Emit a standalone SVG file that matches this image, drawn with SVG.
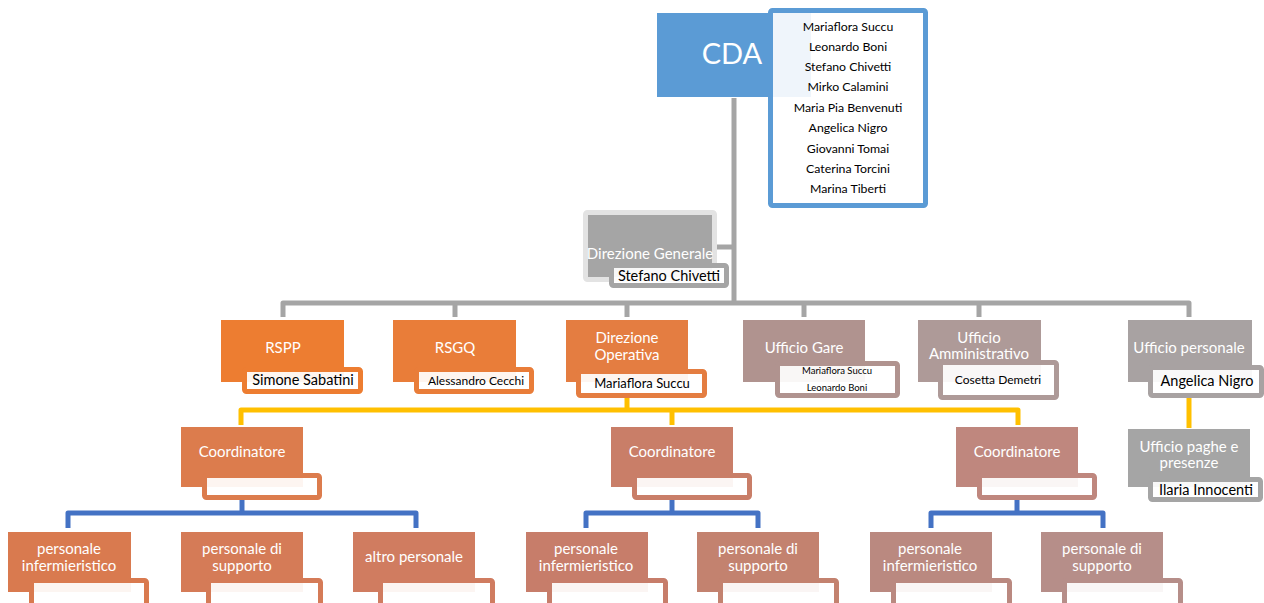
<svg xmlns="http://www.w3.org/2000/svg" width="1264" height="603" viewBox="0 0 1264 603">
<style>
.conn{fill:none;stroke-width:5;stroke-linejoin:round;stroke-linecap:butt}
.g{stroke:#A5A5A5}.y{stroke:#FFC000}.b{stroke:#4472C4}
.lbl{font-family:Lato,"Liberation Sans",sans-serif;font-size:15px;fill:#FFFFFF;text-anchor:middle}
.nm{font-family:Lato,"Liberation Sans",sans-serif;font-size:14.5px;fill:#000000;text-anchor:middle}
.nb{fill:#FFFFFF;fill-opacity:0.92;stroke-width:5}
</style>
<rect width="1264" height="603" fill="#FFFFFF"/>
<g id="connectors">
<path class="conn g" d="M734,98 V303"/>
<path class="conn g" d="M717,247 H734"/>
<path class="conn g" d="M283,317 V303 H1189 V317"/>
<path class="conn g" d="M455,303 V317 M627,303 V317 M804,303 V317 M979,303 V317"/>
<path class="conn y" d="M627,397 V410"/>
<path class="conn y" d="M241,425 V410 H1018 V425"/>
<path class="conn y" d="M672,410 V425"/>
<path class="conn y" d="M1189,397 V428"/>
<path class="conn b" d="M242,499 V513"/>
<path class="conn b" d="M68,528 V513 H416 V528"/>
<path class="conn b" d="M672,499 V513"/>
<path class="conn b" d="M586,528 V513 H758 V528"/>
<path class="conn b" d="M1017,499 V513"/>
<path class="conn b" d="M931,528 V513 H1103 V528"/>
</g>
<g id="cda">
<rect x="657" y="13" width="154" height="84" fill="#5B9BD5"/>
<text x="732" y="64" font-family="Lato,'Liberation Sans',sans-serif" font-size="29" fill="#FFFFFF" text-anchor="middle">CDA</text>
<rect x="770.5" y="10.5" width="155" height="195" rx="2" fill="#FFFFFF" fill-opacity="0.9" stroke="#5B9BD5" stroke-width="5"/>
<g font-family="Lato,'Liberation Sans',sans-serif" font-size="12.3" fill="#000000" text-anchor="middle">
<text x="848" y="31">Mariaflora Succu</text>
<text x="848" y="51">Leonardo Boni</text>
<text x="848" y="71">Stefano Chivetti</text>
<text x="848" y="91">Mirko Calamini</text>
<text x="848" y="112">Maria Pia Benvenuti</text>
<text x="848" y="132">Angelica Nigro</text>
<text x="848" y="153">Giovanni Tomai</text>
<text x="848" y="173">Caterina Torcini</text>
<text x="848" y="193">Marina Tiberti</text>
</g>
</g>
<g id="direzione-generale">
<rect x="585.5" y="212.5" width="129" height="67" rx="2" fill="#A5A5A5" stroke="#E3E3E3" stroke-width="5"/>
<text class="lbl" x="650" y="259">Direzione Generale</text>
<rect class="nb" x="611.5" y="265.5" width="115" height="20" rx="2" stroke="#A5A5A5"/>
<text class="nm" x="669" y="281">Stefano Chivetti</text>
</g>
<g id="rspp">
<rect x="221" y="320" width="123" height="62" fill="#ED7D31"/>
<text class="lbl" x="283" y="353">RSPP</text>
<rect class="nb" x="244.5" y="369.5" width="116" height="22" rx="2" stroke="#ED7D31"/>
<text class="nm" x="303" y="385">Simone Sabatini</text>
</g>
<g id="rsgq">
<rect x="393" y="320" width="123" height="62" fill="#E97D39"/>
<text class="lbl" x="455" y="353">RSGQ</text>
<rect class="nb" x="416.5" y="369.5" width="115" height="22" rx="2" stroke="#E97D39"/>
<text class="nm" x="476" y="385" style="font-size:12px">Alessandro Cecchi</text>
</g>
<g id="direzione-operativa">
<rect x="566" y="320" width="122" height="62" fill="#E47D41"/>
<text class="lbl" x="627" y="343">Direzione</text>
<text class="lbl" x="627" y="360">Operativa</text>
<rect class="nb" x="578.5" y="371.5" width="126" height="24" rx="2" stroke="#E47D41"/>
<text class="nm" x="642" y="388" style="font-size:13px">Mariaflora Succu</text>
</g>
<g id="ufficio-gare">
<rect x="743" y="320" width="122" height="62" fill="#B0938F"/>
<text class="lbl" x="804" y="353">Ufficio Gare</text>
<rect class="nb" x="777.5" y="363.5" width="120" height="32" rx="2" stroke="#B0938F"/>
<text class="nm" x="837" y="374" style="font-size:9.5px">Mariaflora Succu</text>
<text class="nm" x="837" y="391" style="font-size:9.5px">Leonardo Boni</text>
</g>
<g id="ufficio-amministrativo">
<rect x="918" y="320" width="123" height="62" fill="#AE9A98"/>
<text class="lbl" x="979" y="343">Ufficio</text>
<text class="lbl" x="979" y="359">Amministrativo</text>
<rect class="nb" x="940.5" y="362.5" width="116" height="35" rx="2" stroke="#AE9A98"/>
<text class="nm" x="998" y="384" style="font-size:12px">Cosetta Demetri</text>
</g>
<g id="ufficio-personale">
<rect x="1128" y="320" width="124" height="62" fill="#A8A2A2"/>
<text class="lbl" x="1189" y="353">Ufficio personale</text>
<rect class="nb" x="1150.5" y="367.5" width="111" height="28" rx="2" stroke="#A8A2A2"/>
<text class="nm" x="1207" y="386">Angelica Nigro</text>
</g>
<g id="ufficio-paghe">
<rect x="1128" y="429" width="122" height="58" fill="#A5A5A5"/>
<text class="lbl" x="1189" y="452">Ufficio paghe e</text>
<text class="lbl" x="1189" y="468">presenze</text>
<rect class="nb" x="1150.5" y="479.5" width="110" height="20" rx="2" stroke="#A5A5A5"/>
<text class="nm" x="1206" y="495">Ilaria Innocenti</text>
</g>
<g id="coordinatore-1">
<rect x="181" y="427" width="122" height="60" fill="#DC7C4D"/>
<text class="lbl" x="242" y="457">Coordinatore</text>
<rect class="nb" x="204.5" y="475.5" width="115" height="22" rx="2" stroke="#DC7C4D"/>
</g>
<g id="coordinatore-2">
<rect x="611" y="427" width="122" height="60" fill="#C97E68"/>
<text class="lbl" x="672" y="457">Coordinatore</text>
<rect class="nb" x="634.5" y="475.5" width="115" height="22" rx="2" stroke="#C97E68"/>
</g>
<g id="coordinatore-3">
<rect x="956" y="427" width="122" height="60" fill="#BF877E"/>
<text class="lbl" x="1017" y="457">Coordinatore</text>
<rect class="nb" x="979.5" y="475.5" width="115" height="22" rx="2" stroke="#BF877E"/>
</g>
<g id="personale-inf-1">
<rect x="8" y="532" width="123" height="60" fill="#D97A4F"/>
<text class="lbl" x="69" y="554">personale</text>
<text class="lbl" x="69" y="571">infermieristico</text>
<rect class="nb" x="31.5" y="580.5" width="115" height="26" rx="2" stroke="#D97A4F"/>
</g>
<g id="personale-sup-1">
<rect x="181" y="532" width="122" height="60" fill="#D57B57"/>
<text class="lbl" x="242" y="554">personale di</text>
<text class="lbl" x="242" y="571">supporto</text>
<rect class="nb" x="208.5" y="580.5" width="112" height="26" rx="2" stroke="#D57B57"/>
</g>
<g id="altro-personale">
<rect x="353" y="532" width="122" height="60" fill="#D07C60"/>
<text class="lbl" x="414" y="562">altro personale</text>
<rect class="nb" x="380.5" y="580.5" width="112" height="26" rx="2" stroke="#D07C60"/>
</g>
<g id="personale-inf-2">
<rect x="526" y="532" width="122" height="60" fill="#C77D6A"/>
<text class="lbl" x="586" y="554">personale</text>
<text class="lbl" x="586" y="571">infermieristico</text>
<rect class="nb" x="549.5" y="580.5" width="116" height="26" rx="2" stroke="#C77D6A"/>
</g>
<g id="personale-sup-2">
<rect x="697" y="532" width="122" height="60" fill="#C3826F"/>
<text class="lbl" x="758" y="554">personale di</text>
<text class="lbl" x="758" y="571">supporto</text>
<rect class="nb" x="720.5" y="580.5" width="116" height="26" rx="2" stroke="#C3826F"/>
</g>
<g id="personale-inf-3">
<rect x="870" y="532" width="122" height="60" fill="#BA8980"/>
<text class="lbl" x="930" y="554">personale</text>
<text class="lbl" x="930" y="571">infermieristico</text>
<rect class="nb" x="893.5" y="580.5" width="116" height="26" rx="2" stroke="#BA8980"/>
</g>
<g id="personale-sup-3">
<rect x="1041" y="532" width="122" height="60" fill="#B68E89"/>
<text class="lbl" x="1102" y="554">personale di</text>
<text class="lbl" x="1102" y="571">supporto</text>
<rect class="nb" x="1064.5" y="580.5" width="116" height="26" rx="2" stroke="#B68E89"/>
</g>
</svg>
